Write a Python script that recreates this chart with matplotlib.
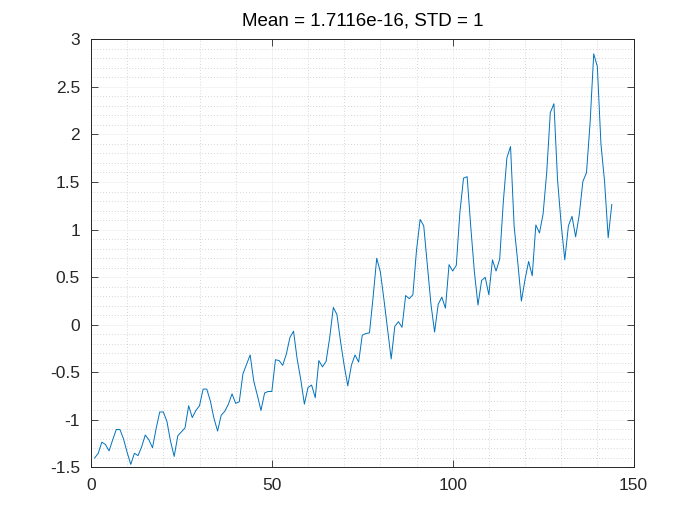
import matplotlib

matplotlib.use("Agg")
import matplotlib.pyplot as plt
import numpy as np
from matplotlib.ticker import MultipleLocator

# monthly airline passengers, z-scored
z_values = [
    -1.403, -1.353, -1.236, -1.261, -1.328, -1.211, -1.103, -1.103, -1.203, -1.345, -1.470, -1.353,
    -1.378, -1.286, -1.161, -1.211, -1.295, -1.094, -0.919, -0.919, -1.019, -1.228, -1.386, -1.169,
    -1.128, -1.086, -0.853, -0.978, -0.903, -0.853, -0.678, -0.678, -0.803, -0.986, -1.119, -0.953,
    -0.911, -0.836, -0.728, -0.828, -0.811, -0.519, -0.419, -0.319, -0.594, -0.744, -0.903, -0.719,
    -0.703, -0.703, -0.369, -0.378, -0.428, -0.311, -0.136, -0.069, -0.361, -0.578, -0.836, -0.661,
    -0.636, -0.769, -0.378, -0.444, -0.386, -0.136, 0.181, 0.106, -0.178, -0.428, -0.644, -0.428,
    -0.319, -0.394, -0.111, -0.094, -0.086, 0.289, 0.698, 0.556, 0.264, -0.053, -0.361, -0.019,
    0.031, -0.028, 0.306, 0.273, 0.314, 0.781, 1.106, 1.039, 0.623, 0.214, -0.078, 0.214,
    0.289, 0.173, 0.631, 0.564, 0.623, 1.181, 1.540, 1.556, 1.031, 0.556, 0.206, 0.464,
    0.498, 0.314, 0.681, 0.564, 0.689, 1.290, 1.756, 1.873, 1.031, 0.656, 0.248, 0.473,
    0.664, 0.514, 1.048, 0.964, 1.164, 1.598, 2.231, 2.323, 1.523, 1.056, 0.681, 1.039,
    1.139, 0.923, 1.156, 1.506, 1.598, 2.123, 2.848, 2.715, 1.898, 1.506, 0.914, 1.264,
]
title_text = "Mean = 1.7116e-16, STD = 1"

plt.rcParams["font.family"] = ["Liberation Sans", "DejaVu Sans"]

fig = plt.figure(figsize=(7, 5.25), dpi=100)
ax = fig.add_axes([0.13, 0.11, 0.775, 0.815])

t = np.arange(1, len(z_values) + 1)
ax.plot(t, z_values, color="#0072BD", linewidth=0.7)

ax.set_xlim(0, 150)
ax.set_ylim(-1.5, 3)
ax.xaxis.set_major_locator(MultipleLocator(50))
ax.xaxis.set_minor_locator(MultipleLocator(10))
ax.yaxis.set_minor_locator(MultipleLocator(0.1))
ax.set_yticks(np.arange(-1.5, 3.01, 0.5))
ax.set_yticklabels(["-1.5", "-1", "-0.5", "0", "0.5", "1", "1.5", "2", "2.5", "3"])

ax.grid(which="major", color="#f2f2f2", linewidth=0.6, linestyle="-")
ax.grid(which="minor", color="#c8c8c8", linewidth=0.6, linestyle=(0, (1, 2.5)))
ax.set_axisbelow(True)

ax.tick_params(which="both", direction="in", top=True, right=True, labelsize=12.5,
               colors="#262626", width=0.6)
ax.tick_params(which="major", length=5)
ax.tick_params(axis="x", which="major", pad=8)
ax.tick_params(axis="y", which="major", pad=8)
ax.tick_params(which="minor", length=0)
for s in ax.spines.values():
    s.set_color("#262626")
    s.set_linewidth(0.7)

ax.set_title(title_text, fontsize=13.5, color="#000000", pad=10)

fig.savefig("out.png", dpi=100)
